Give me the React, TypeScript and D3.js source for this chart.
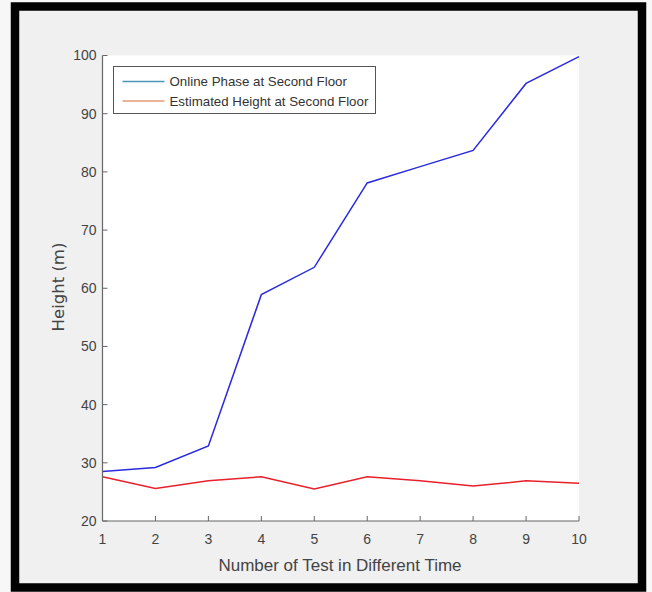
import React from "react";
import * as d3 from "d3";

// test numbers and heights
const tests = [1, 2, 3, 4, 5, 6, 7, 8, 9, 10];
const onlinePhase = [28.5, 29.2, 32.9, 58.9, 63.6, 78.1, 80.9, 83.7, 95.2, 99.8];
const estimatedHeight = [27.6, 25.6, 26.9, 27.6, 25.5, 27.6, 26.9, 26.0, 26.9, 26.5];
const yTicks = [20, 30, 40, 50, 60, 70, 80, 90, 100];
const legendLabels = ["Online Phase at Second Floor", "Estimated Height at Second Floor"];

const width = 652;
const height = 592;
const margin = { top: 55.5, right: 73, bottom: 71, left: 102.5 };
const sans = "'Liberation Sans', Arial, sans-serif";

export default function App() {
  const innerWidth = width - margin.left - margin.right;
  const innerHeight = height - margin.top - margin.bottom;

  const x = d3.scaleLinear().domain([1, 10]).range([0, innerWidth]);
  const y = d3.scaleLinear().domain([20, 100]).range([innerHeight, 0]);

  const line = d3
    .line<number>()
    .x((d, i) => x(tests[i]))
    .y(d => y(d));

  return (
    <svg
      width={width}
      height={height}
      style={{ position: "absolute", left: 0, top: 0, display: "block" }}
    >
      <rect x={0} y={0} width={width} height={height} fill="#f7f7f7" />
      {/* black frame */}
      <rect x={15} y={6.5} width={627} height={581} fill="#f0f0f0" stroke="#000" strokeWidth={8.5} />

      <g transform={`translate(${margin.left}, ${margin.top})`}>
        <rect x={0} y={0} width={innerWidth} height={innerHeight} fill="#fff" />

        {/* data lines */}
        <path d={line(onlinePhase) || ""} fill="none" stroke="#2a2ae0" strokeWidth={1.5} />
        <path d={line(estimatedHeight) || ""} fill="none" stroke="#e8202c" strokeWidth={1.5} />

        {/* axes */}
        <line x1={0} x2={innerWidth} y1={innerHeight} y2={innerHeight} stroke="#666" strokeWidth={1.2} />
        <line x1={0} x2={0} y1={0} y2={innerHeight} stroke="#666" strokeWidth={1.2} />

        {tests.map(t => (
          <g key={"xt" + t} transform={`translate(${x(t)}, ${innerHeight})`}>
            <line y1={0} y2={-5} stroke="#666" />
            <text y={23} textAnchor="middle" fontFamily={sans} fontSize={14} fill="#444">
              {t}
            </text>
          </g>
        ))}

        {yTicks.map(v => (
          <g key={"yt" + v} transform={`translate(0, ${y(v)})`}>
            <line x1={0} x2={5} stroke="#666" />
            <text x={-6} dy="0.35em" textAnchor="end" fontFamily={sans} fontSize={14} fill="#444">
              {v}
            </text>
          </g>
        ))}

        {/* legend */}
        <g transform="translate(11, 11)">
          <rect x={0} y={0} width={262} height={47} fill="#fff" stroke="#555" strokeWidth={1} />
          {legendLabels.map((label, i) => (
            <g key={label} transform={`translate(0, ${15 + i * 19.5})`}>
              <line x1={9} x2={51} y1={0} y2={0} stroke={i === 0 ? "#4a97b8" : "#e49a78"} strokeWidth={1.5} />
              <text x={56} dy="0.35em" fontFamily={sans} fontSize={13.3} fill="#333">
                {label}
              </text>
            </g>
          ))}
        </g>
      </g>

      <text
        transform="translate(64, 287) rotate(-90)"
        textAnchor="middle"
        fontFamily="'DejaVu Sans', Verdana, sans-serif"
        fontSize={16.5}
        fill="#444"
      >
        Height (m)
      </text>
      <text x={340} y={571} textAnchor="middle" fontFamily={sans} fontSize={17} fill="#444">
        Number of Test in Different Time
      </text>
    </svg>
  );
}
